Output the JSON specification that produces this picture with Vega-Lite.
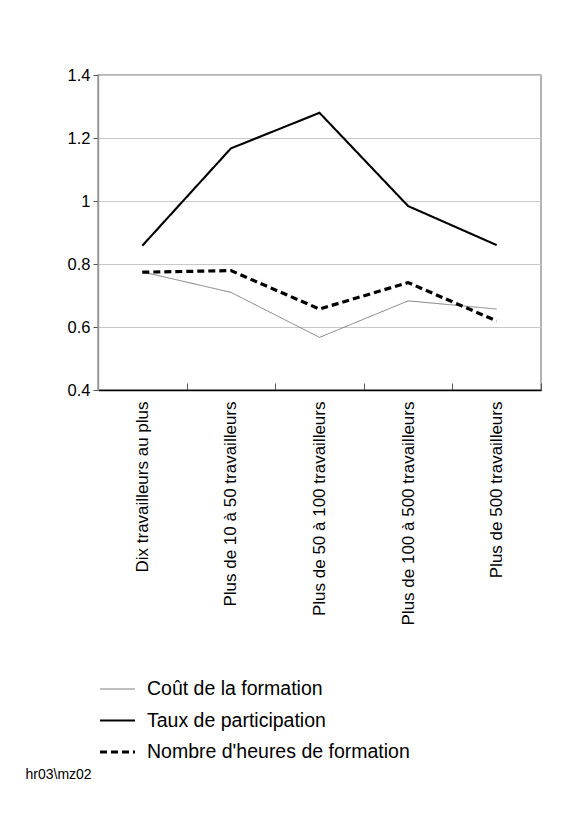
{
  "$schema": "https://vega.github.io/schema/vega-lite/v6.json",
  "autosize": {"type": "none"},
  "width": 443,
  "height": 315,
  "padding": {"left": 98, "top": 75, "right": 44, "bottom": 433},
  "background": "white",
  "config": {
    "font": "Liberation Sans",
    "view": {"stroke": "#9a9a9a", "strokeWidth": 1.5},
    "axis": {"labelFont": "Liberation Sans", "titleFont": "Liberation Sans", "labelColor": "#000", "titleColor": "#000"},
    "legend": {"labelFont": "Liberation Sans", "labelColor": "#000", "labelLimit": 400, "clipHeight": 24, "rowPadding": 7.5}
  },
  "data": {
    "values": [
      {"serie": "Coût de la formation", "cat": "Dix travailleurs au plus", "value": 0.775},
      {"serie": "Coût de la formation", "cat": "Plus de 10 à 50 travailleurs", "value": 0.71},
      {"serie": "Coût de la formation", "cat": "Plus de 50 à 100 travailleurs", "value": 0.567},
      {"serie": "Coût de la formation", "cat": "Plus de 100 à 500 travailleurs", "value": 0.683},
      {"serie": "Coût de la formation", "cat": "Plus de 500 travailleurs", "value": 0.657},
      {"serie": "Taux de participation", "cat": "Dix travailleurs au plus", "value": 0.858},
      {"serie": "Taux de participation", "cat": "Plus de 10 à 50 travailleurs", "value": 1.167},
      {"serie": "Taux de participation", "cat": "Plus de 50 à 100 travailleurs", "value": 1.28},
      {"serie": "Taux de participation", "cat": "Plus de 100 à 500 travailleurs", "value": 0.984},
      {"serie": "Taux de participation", "cat": "Plus de 500 travailleurs", "value": 0.86},
      {"serie": "Nombre d'heures de formation", "cat": "Dix travailleurs au plus", "value": 0.774},
      {"serie": "Nombre d'heures de formation", "cat": "Plus de 10 à 50 travailleurs", "value": 0.779},
      {"serie": "Nombre d'heures de formation", "cat": "Plus de 50 à 100 travailleurs", "value": 0.657},
      {"serie": "Nombre d'heures de formation", "cat": "Plus de 100 à 500 travailleurs", "value": 0.741},
      {"serie": "Nombre d'heures de formation", "cat": "Plus de 500 travailleurs", "value": 0.619}
    ]
  },
  "mark": {"type": "line"},
  "encoding": {
    "x": {
      "field": "cat", "type": "nominal", "sort": null,
      "scale": {"type": "band", "paddingInner": 0, "paddingOuter": 0},
      "axis": {
        "title": "hr03\\mz02", "titleFontSize": 14, "titleFontWeight": "normal",
        "titleAnchor": "start", "titleAlign": "left", "titleBaseline": "middle", "titleAngle": 0,
        "titleX": -73, "titleY": 384,
        "labelAngle": -90, "labelFontSize": 17, "labelPadding": 18, "labelLimit": 400,
        "domainColor": "#000", "domainWidth": 1.5,
        "tickBand": "extent", "tickSize": -7, "tickColor": "#555", "tickWidth": 1,
        "grid": false
      }
    },
    "y": {
      "field": "value", "type": "quantitative",
      "scale": {"domain": [0.4, 1.4], "nice": false, "zero": false},
      "axis": {
        "title": null, "values": [0.4, 0.6, 0.8, 1, 1.2, 1.4], "format": "~g",
        "labelFontSize": 16.5, "labelPadding": 3, "tickSize": 5, "tickColor": "#555",
        "domainColor": "#9a9a9a", "domainWidth": 1.5,
        "grid": true, "gridColor": "#c8c8c8", "gridWidth": 1.2
      }
    },
    "color": {
      "field": "serie", "type": "nominal",
      "scale": {"domain": ["Coût de la formation", "Taux de participation", "Nombre d'heures de formation"], "range": ["#808080", "#000000", "#000000"]},
      "legend": {
        "title": null, "orient": "none", "legendX": 0, "legendY": 602,
        "symbolType": "stroke", "symbolSize": 1225, "labelFontSize": 19.5, "labelOffset": 10
      }
    },
    "strokeWidth": {
      "field": "serie", "type": "nominal",
      "scale": {"domain": ["Coût de la formation", "Taux de participation", "Nombre d'heures de formation"], "range": [1, 3.2, 3.2]},
      "legend": {
        "title": null, "orient": "none", "legendX": 0, "legendY": 602,
        "symbolType": "stroke", "symbolSize": 1225, "labelFontSize": 19.5, "labelOffset": 10
      }
    },
    "strokeDash": {
      "field": "serie", "type": "nominal",
      "scale": {"domain": ["Coût de la formation", "Taux de participation", "Nombre d'heures de formation"], "range": [[1, 0], [1, 0], [7, 4]]},
      "legend": {
        "title": null, "orient": "none", "legendX": 0, "legendY": 602,
        "symbolType": "stroke", "symbolSize": 1225, "labelFontSize": 19.5, "labelOffset": 10
      }
    }
  }
}
